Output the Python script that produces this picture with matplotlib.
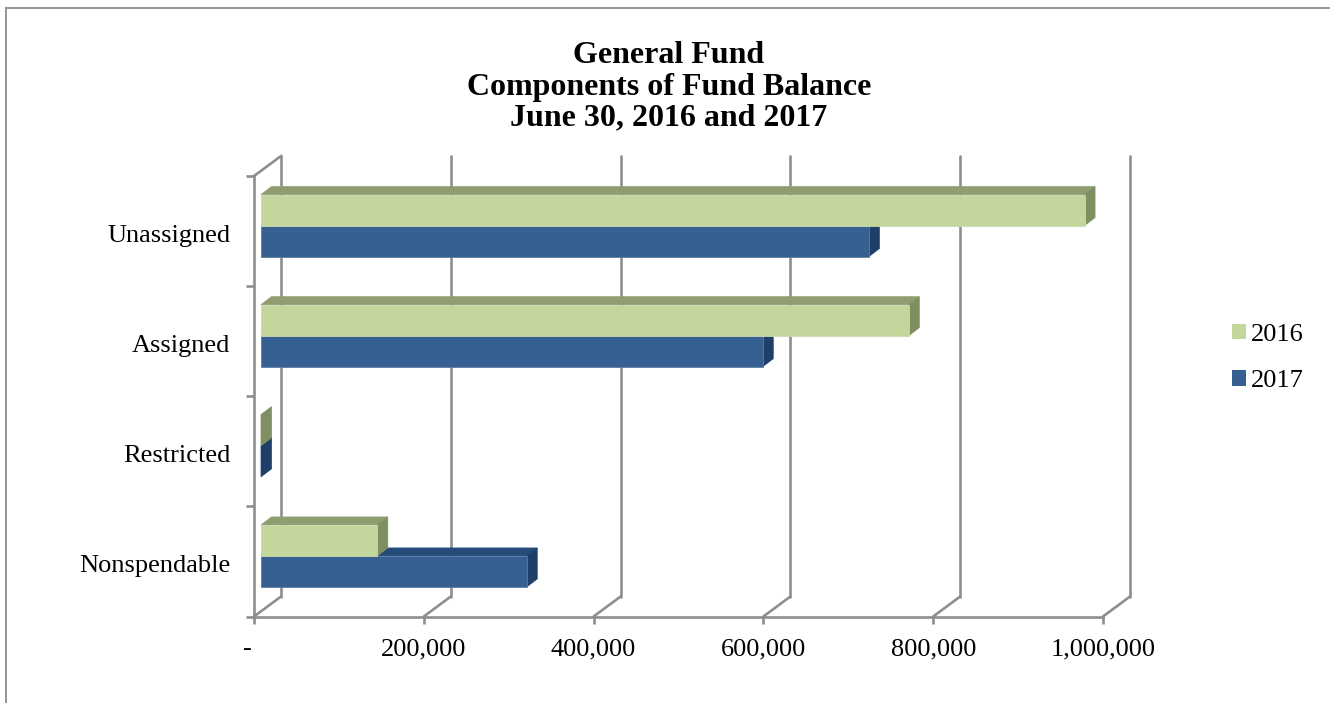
import matplotlib
matplotlib.use("Agg")
import matplotlib.pyplot as plt
from matplotlib.lines import Line2D
from matplotlib.patches import Patch, Polygon
from matplotlib.transforms import ScaledTranslation

W, H = 1330, 703
categories = ["Nonspendable", "Restricted", "Assigned", "Unassigned"]
series_2016 = [137000, 0, 763000, 970000]
series_2017 = [313000, 0, 591000, 716000]
x_ticks = [0, 200000, 400000, 600000, 800000, 1000000]
x_tick_labels = ["-  ", "200,000", "400,000", "600,000", "800,000", "1,000,000"]
title = "General Fund\nComponents of Fund Balance\nJune 30, 2016 and 2017"

GREEN = ("#c3d69b", "#8f9d70", "#7f8f62")
BLUE = ("#376092", "#254b78", "#1f3f68")
GRID = "#8e8e8e"
EDGE_GREEN = "#cdd8b4"
EDGE_BLUE = "#5d7da4"

plt.rcParams["font.family"] = ["Liberation Serif", "DejaVu Serif"]

fig = plt.figure(figsize=(W / 100, H / 100), dpi=100, facecolor="white")
left, right, top, bottom = 254, 1103, 176, 616.5
ax = fig.add_axes([left / W, 1 - bottom / H, (right - left) / W, (bottom - top) / H])
ax.set_xlim(0, 1000000)
ax.set_ylim(-0.5, 3.5)
ax.patch.set_alpha(0)

# Conversion from pixels on the page to data units, for the 3-D offsets
ux = 1000000 / (right - left)
uy = 4 / (bottom - top)

wall_dx, wall_dy = 27 * ux, 20 * uy
bar_dx, bar_dy = 10.5 * ux, 8 * uy
inset = 7 * ux
lift = 5.5 * uy
bar_h = 31 * uy
lw = 1.9

# Back wall and the diagonal floor and side edges leading to it
for v in x_ticks:
    ax.plot([v, v + wall_dx], [-0.5, -0.5 + wall_dy], color=GRID, lw=lw,
            clip_on=False, zorder=1, solid_capstyle="round")
    ax.plot([v + wall_dx] * 2, [-0.5 + wall_dy, 3.5 + wall_dy], color=GRID, lw=lw,
            clip_on=False, zorder=1, solid_capstyle="round")
ax.plot([0, wall_dx], [3.5, 3.5 + wall_dy], color=GRID, lw=lw, clip_on=False, zorder=1)


def draw_bar(y, value, colours, edge, z):
    x0 = inset
    x1 = inset + value
    y0, y1 = y - bar_h / 2, y + bar_h / 2
    front, upper, side = colours
    ax.add_patch(Polygon([(x0, y1), (x1, y1), (x1 + bar_dx, y1 + bar_dy), (x0 + bar_dx, y1 + bar_dy)],
                         closed=True, fc=upper, ec=upper, lw=0.5, zorder=z, clip_on=False))
    ax.add_patch(Polygon([(x1, y0), (x1 + bar_dx, y0 + bar_dy), (x1 + bar_dx, y1 + bar_dy), (x1, y1)],
                         closed=True, fc=side, ec=side, lw=0.5, zorder=z, clip_on=False))
    if value > 0:
        ax.barh(y, value, height=bar_h, left=x0, color=front, edgecolor=edge, lw=0.6,
                zorder=z + 0.1, clip_on=False)


for i in range(len(categories)):
    draw_bar(i + lift - bar_h / 2, series_2017[i], BLUE, EDGE_BLUE, 3)
for i in range(len(categories)):
    draw_bar(i + lift + bar_h / 2, series_2016[i], GREEN, EDGE_GREEN, 4)

# Front axes
for side_name in ("top", "right"):
    ax.spines[side_name].set_visible(False)
for side_name in ("left", "bottom"):
    ax.spines[side_name].set_color(GRID)
    ax.spines[side_name].set_linewidth(lw)
    ax.spines[side_name].set_zorder(2)

ax.set_xticks(x_ticks)
ax.set_xticklabels(x_tick_labels)
ax.tick_params(axis="x", length=5, width=lw, color=GRID, labelsize=19, pad=10.5)
ax.set_yticks(range(len(categories)))
ax.set_yticklabels(categories)
ax.set_yticks([-0.5, 0.5, 1.5, 2.5, 3.5], minor=True)
ax.tick_params(axis="y", which="major", length=0, labelsize=19, pad=17)
ax.tick_params(axis="y", which="minor", length=6, width=lw, color=GRID)

# Category names sit slightly below the centre of each band
nudge = ScaledTranslation(0, -1.5 / 72, fig.dpi_scale_trans)
for label in ax.get_yticklabels():
    label.set_transform(label.get_transform() + nudge)

fig.text(669 / W, 1 - 87 / H, title, ha="center", va="center", fontsize=23,
         fontweight="bold", linespacing=1.1, color="black")

handles = [Patch(fc=GREEN[0], ec="none", label="2016"), Patch(fc=BLUE[0], ec="none", label="2017")]
fig.legend(handles=handles, loc="center left", bbox_to_anchor=(1232 / W, 1 - 358 / H),
           frameon=False, fontsize=19, handlelength=0.53, handleheight=0.53,
           handletextpad=0.19, labelspacing=0.93, borderpad=0, borderaxespad=0)

# Outer frame of the chart area
fig.add_artist(Line2D([6 / W, 6 / W], [0, 1 - 8 / H], color="#8c8c8c", lw=1.3, transform=fig.transFigure))
fig.add_artist(Line2D([6 / W, 1], [1 - 8 / H, 1 - 8 / H], color="#8c8c8c", lw=1.3, transform=fig.transFigure))

fig.savefig("out.png", dpi=100)
